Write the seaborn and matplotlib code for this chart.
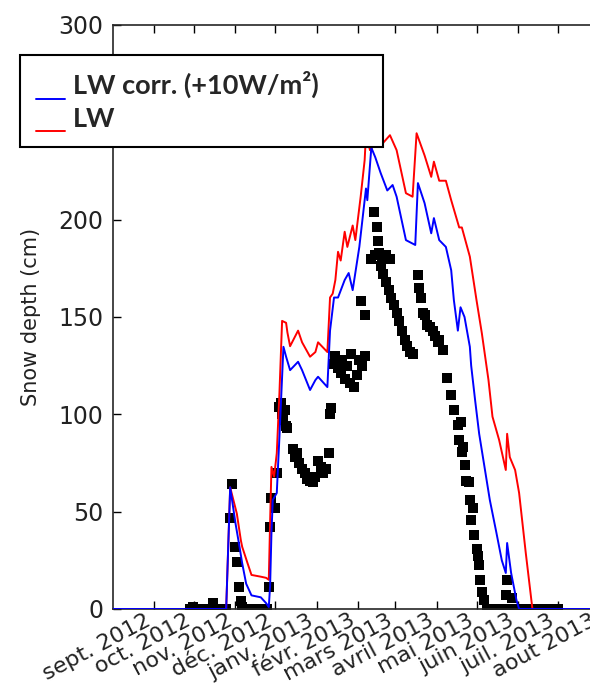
import matplotlib
matplotlib.use("Agg")
import matplotlib.pyplot as plt
import pandas as pd
import seaborn as sns

# simulated snow depth, LW corrected (+10 W/m2)
lwc_dates = ["2012-08-01", "2012-10-25", "2012-10-28", "2012-11-01", "2012-11-04", "2012-11-06",
             "2012-11-09", "2012-11-13", "2012-11-20", "2012-11-24", "2012-11-26", "2012-11-27",
             "2012-11-28", "2012-11-29", "2012-12-02", "2012-12-04", "2012-12-07", "2012-12-09",
             "2012-12-12", "2012-12-18", "2012-12-21", "2012-12-27", "2012-12-31", "2013-01-02",
             "2013-01-09", "2013-01-11", "2013-01-14", "2013-01-17", "2013-01-22", "2013-01-25",
             "2013-01-28", "2013-02-02", "2013-02-04", "2013-02-07", "2013-02-08", "2013-02-11",
             "2013-02-14", "2013-02-18", "2013-02-23", "2013-02-27", "2013-03-02", "2013-03-09",
             "2013-03-16", "2013-03-18", "2013-03-23", "2013-03-28", "2013-03-30", "2013-04-03",
             "2013-04-08", "2013-04-12", "2013-04-14", "2013-04-17", "2013-04-19", "2013-04-22",
             "2013-04-26", "2013-04-27", "2013-04-30", "2013-05-03", "2013-05-07", "2013-05-11",
             "2013-05-16", "2013-05-20", "2013-05-23", "2013-05-24", "2013-05-27", "2013-05-31",
             "2013-06-02", "2013-08-01"]
lwc_depth = [0, 0, 62.5, 44, 32, 23.6,
             13, 7, 6, 3, 1, 12,
             39, 56, 59.6, 88.5, 134.7, 129.6,
             122.7, 127, 122.7, 112.5, 117.6, 119.3,
             114, 143, 160, 160, 169, 172.6,
             163.8, 186, 198, 216, 210, 237,
             232, 224, 215, 217.8, 211.8, 189.5,
             187, 218.8, 208.5, 193, 200.8, 189.5,
             186, 174, 158.7, 143, 155, 150,
             134.7, 125, 107, 90, 73, 56,
             39, 25, 18.5, 33.9, 18.5, 4.6,
             0, 0]

# simulated snow depth, LW
lw_dates = ["2012-08-01", "2012-10-25", "2012-10-28", "2012-11-02", "2012-11-05", "2012-11-06",
            "2012-11-10", "2012-11-13", "2012-11-20", "2012-11-24", "2012-11-26", "2012-11-27",
            "2012-11-28", "2012-11-30", "2012-12-02", "2012-12-04", "2012-12-06", "2012-12-09",
            "2012-12-10", "2012-12-12", "2012-12-18", "2012-12-21", "2012-12-27", "2012-12-31",
            "2013-01-02", "2013-01-09", "2013-01-11", "2013-01-13", "2013-01-15", "2013-01-17",
            "2013-01-19", "2013-01-22", "2013-01-24", "2013-01-28", "2013-01-30", "2013-02-03",
            "2013-02-06", "2013-02-07", "2013-02-10", "2013-02-14", "2013-02-18", "2013-02-25",
            "2013-03-02", "2013-03-09", "2013-03-14", "2013-03-17", "2013-03-23", "2013-03-28",
            "2013-03-30", "2013-04-03", "2013-04-08", "2013-04-12", "2013-04-18", "2013-04-20",
            "2013-04-26", "2013-05-01", "2013-05-05", "2013-05-10", "2013-05-13", "2013-05-18",
            "2013-05-23", "2013-05-24", "2013-05-26", "2013-05-30", "2013-06-02", "2013-06-07",
            "2013-06-12", "2013-08-01"]
lw_depth = [0, 0, 62.5, 49, 35.4, 32,
            23.6, 17.5, 16.6, 16, 15, 45,
            73, 68, 80, 111, 148, 147,
            142, 135, 143, 137, 129.6, 132,
            137, 132, 160, 162, 169, 183.5,
            179, 193.8, 186, 197, 189.5, 211.8,
            230.6, 244, 235.7, 239, 238, 243.4,
            235.7, 213.6, 211.8, 244.4, 233, 222,
            229.8, 220, 220, 210, 196, 196,
            181, 158.7, 141.7, 117.6, 98.8, 86.8,
            71.4, 90, 78, 71.4, 59.6, 28.8,
            0, 0]

# observed snow depth
obs_dates = ["2012-09-28", "2012-09-30", "2012-10-02", "2012-10-06", "2012-10-10", "2012-10-15",
             "2012-10-17", "2012-10-21", "2012-10-25", "2012-10-28", "2012-10-29", "2012-11-01",
             "2012-11-02", "2012-11-04", "2012-11-05", "2012-11-06", "2012-11-08", "2012-11-12",
             "2012-11-16", "2012-11-21", "2012-11-25", "2012-11-26", "2012-11-27", "2012-11-28",
             "2012-12-01", "2012-12-02", "2012-12-04", "2012-12-05", "2012-12-06", "2012-12-07",
             "2012-12-08", "2012-12-09", "2012-12-10", "2012-12-14", "2012-12-16", "2012-12-17",
             "2012-12-19", "2012-12-21", "2012-12-23", "2012-12-25", "2012-12-27", "2012-12-29",
             "2012-12-31", "2013-01-02", "2013-01-04", "2013-01-06", "2013-01-08", "2013-01-10",
             "2013-01-11", "2013-01-12", "2013-01-14", "2013-01-15", "2013-01-17", "2013-01-19",
             "2013-01-20", "2013-01-22", "2013-01-24", "2013-01-26", "2013-01-27", "2013-01-29",
             "2013-01-31", "2013-02-02", "2013-02-04", "2013-02-06", "2013-02-03", "2013-02-06",
             "2013-02-13", "2013-02-15", "2013-02-16", "2013-02-11", "2013-02-14", "2013-02-17",
             "2013-02-19", "2013-02-22", "2013-02-25", "2013-02-18", "2013-02-20", "2013-02-22",
             "2013-02-24", "2013-02-26", "2013-02-28", "2013-03-02", "2013-03-04", "2013-03-06",
             "2013-03-08", "2013-03-10", "2013-03-12", "2013-03-14", "2013-03-18", "2013-03-19",
             "2013-03-20", "2013-03-22", "2013-03-23", "2013-03-25", "2013-03-27", "2013-03-29",
             "2013-03-31", "2013-04-02", "2013-04-03", "2013-04-06", "2013-04-09", "2013-04-12",
             "2013-04-14", "2013-04-17", "2013-04-18", "2013-04-19", "2013-04-20", "2013-04-21",
             "2013-04-22", "2013-04-23", "2013-04-25", "2013-04-26", "2013-04-27", "2013-04-28",
             "2013-04-29", "2013-05-01", "2013-05-02", "2013-05-03", "2013-05-04", "2013-05-05",
             "2013-05-07", "2013-05-09", "2013-05-12", "2013-05-15", "2013-05-19", "2013-05-22",
             "2013-05-23", "2013-05-24", "2013-05-26", "2013-05-28", "2013-05-29", "2013-06-01",
             "2013-06-04", "2013-06-08", "2013-06-12", "2013-06-16", "2013-06-20", "2013-06-24",
             "2013-06-28", "2013-07-01"]
obs_depth = [0, 1, 0, 0, 0, 3,
             0, 0, 0, 47, 64, 32,
             24, 11.5, 4, 1, 0, 0,
             0, 0, 0, 11.5, 42, 57,
             52, 70, 104, 106, 100, 97,
             102, 94, 93, 82, 78, 80,
             75, 72, 70, 67, 66, 65,
             68, 76, 73, 70, 72, 80,
             100, 103, 126, 130, 124, 121,
             128, 118, 125, 116, 131, 114,
             120, 128, 125, 130, 158, 151,
             204, 196, 189, 180, 182, 183,
             181, 182, 180, 176, 172, 168,
             164, 160, 156, 152, 148, 143,
             138, 135, 132, 131, 171.5, 165,
             160, 152, 151, 146, 145, 143,
             140, 137, 138, 133, 118.6, 110,
             102, 94.5, 87, 96, 80.6, 83,
             74, 66, 65, 56, 45.7, 52,
             38, 31, 27, 22.6, 15, 8.7,
             4.6, 0, 0, 0, 0, 0,
             7, 15, 0, 5.6, 0, 0,
             0, 0, 0, 0, 0, 0,
             0, 0]

month_labels = ["sept. 2012", "oct. 2012", "nov. 2012", "déc. 2012", "janv. 2013", "févr. 2013",
                "mars 2013", "avril 2013", "mai 2013", "juin 2013", "juil. 2013", "aout 2013"]

sns.set_theme(style="ticks", rc={"axes.linewidth": 1.2, "xtick.direction": "in",
                                 "ytick.direction": "in"})
plt.rcParams["font.family"] = ["DejaVu Sans"]

fig = plt.figure(figsize=(5.9, 6.88), dpi=100)
ax = fig.add_axes([113 / 590, 79 / 688, 486 / 590, 584 / 688])

sns.scatterplot(x=pd.to_datetime(obs_dates), y=obs_depth, marker="s", s=52, color="black",
                linewidth=0, ax=ax, zorder=2)
sns.lineplot(x=pd.to_datetime(lw_dates), y=lw_depth, color="red", lw=1.4, label="LW",
             ax=ax, zorder=3)
sns.lineplot(x=pd.to_datetime(lwc_dates), y=lwc_depth, color="blue", lw=1.4,
             label="LW corr. (+10W/m²)", ax=ax, zorder=4)

ax.set_xlim(pd.Timestamp("2012-08-01"), pd.Timestamp("2013-08-01"))
ax.set_ylim(0, 300)
ax.set_yticks(range(0, 301, 50))
ax.set_xticks(pd.date_range("2012-09-01", "2013-08-01", freq="MS"))
ax.set_xticklabels(month_labels, rotation=28, ha="right")
ax.tick_params(top=True, right=True, length=6, width=1, labelsize=17,
               labelcolor="#222222", color="black")
ax.tick_params(axis="x", labelsize=16, pad=1)
ax.tick_params(axis="y", pad=7)
ax.set_ylabel("Snow depth (cm)", fontsize=15, labelpad=12, color="#222222")
ax.set_xlabel("")

handles, labels = ax.get_legend_handles_labels()
leg = ax.legend([handles[1], handles[0]], [labels[1], labels[0]], loc="upper left",
                bbox_to_anchor=(20 / 590, 1 - 55 / 688, 363 / 590, 0),
                bbox_transform=fig.transFigure, mode="expand",
                prop={"family": "Lato", "weight": "bold", "size": 19.5},
                frameon=True, fancybox=False, edgecolor="black", framealpha=1,
                borderpad=0.6, labelspacing=0.3, handlelength=1.05, handletextpad=0.3,
                borderaxespad=0)
leg.get_frame().set_linewidth(1.5)
for ln in leg.get_lines():
    ln.set_ydata([v - 10 for v in ln.get_ydata()])

fig.savefig("out.png", dpi=100)
